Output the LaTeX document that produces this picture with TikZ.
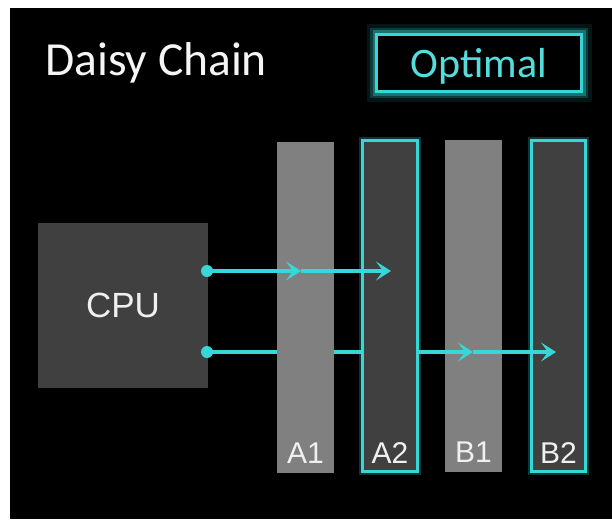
\documentclass[tikz,border=0pt]{standalone}
\usepackage{xcolor}
\usepackage{fontspec}
\usepackage{tikz}
\usetikzlibrary{positioning,arrows.meta}
\setmainfont{Liberation Sans}
\newfontfamily\calfont{Carlito}
\definecolor{glowcyan}{RGB}{55,215,215}
\definecolor{darkbar}{RGB}{64,64,64}
\definecolor{lightbar}{RGB}{128,128,128}
\tikzset{
  bar/.style={rectangle, inner sep=0pt, minimum width=57pt, minimum height=331pt},
  barname/.style={anchor=base, inner sep=0pt, text=white!94!black, font=\fontsize{30}{30}\selectfont},
  link/.style={line width=4.5pt, glowcyan, -{Stealth[length=15pt,width=19pt,inset=7pt]}},
  dot/.style={circle, fill=glowcyan, inner sep=0pt, minimum size=12pt}
}

\begin{document}
\begin{tikzpicture}[x=1pt,y=-1pt]
\useasboundingbox (0,0) rectangle (612,519);
\fill[white] (0,0) rectangle (612,519);
\fill[black] (10,8) rectangle (612,519);

% Title and badge
\node[anchor=base west, inner sep=0pt, text=white!96!black, font=\calfont\fontsize{47.5}{47.5}\selectfont] (title) at (45,75) {Daisy Chain};
\draw[glowcyan, opacity=0.1, line width=20pt] (376.5,34.5) rectangle (581.5,91.5);
\draw[glowcyan, opacity=0.2, line width=13pt] (376.5,34.5) rectangle (581.5,91.5);
\draw[glowcyan, opacity=0.35, line width=8pt] (376.5,34.5) rectangle (581.5,91.5);
\node[rectangle, draw=glowcyan, line width=3pt, fill=black, minimum width=205pt, minimum height=57pt, inner sep=0pt,
      text=glowcyan!85!white, font=\calfont\fontsize{42}{42}\selectfont, text height=28pt, text depth=0pt] (optimal) at (479,63) {Optimal};

% CPU
\node[rectangle, fill=darkbar, minimum width=170pt, minimum height=165pt, inner sep=0pt,
      text=white!94!black, font=\fontsize{35}{35}\selectfont] (cpu) at (123,305.5) {CPU};

% B slots sit below the lower link
\node[bar, fill=lightbar, minimum height=332pt] (b1) at (473.5,306) {};
\draw[glowcyan, opacity=0.25, line width=7pt] (531.5,140.5) rectangle (585.5,471.5);
\node[bar, fill=darkbar, draw=glowcyan, line width=3pt, minimum width=54pt] (b2) at (558.5,306) {};

% lower link
\coordinate (lo0) at (207,352);
\coordinate (lo1) at (473,352);
\coordinate (lo2) at (556,352);
\draw[link] (lo0) -- (lo1);
\draw[link] (lo1) -- (lo2);

% A slots cover the lower link
\node[bar, fill=lightbar] (a1) at (305.5,307.5) {};
\draw[glowcyan, opacity=0.25, line width=7pt] (362.5,140.5) rectangle (417.5,471.5);
\node[bar, fill=darkbar, draw=glowcyan, line width=3pt, minimum width=55pt] (a2) at (390,306) {};

% upper link
\coordinate (up0) at (207,271);
\coordinate (up1) at (301,271);
\coordinate (up2) at (391,271);
\draw[link] (up0) -- (up1);
\draw[link] (up1) -- (up2);
\node[dot] (d1) at (up0) {};
\node[dot] (d2) at (lo0) {};

% slot names
\node[barname] (a1t) at ([yshift=10pt]a1.south) {A1};
\node[barname] (a2t) at ([yshift=10pt]a2.south) {A2};
\node[barname] (b1t) at ([yshift=10pt]b1.south) {B1};
\node[barname] (b2t) at ([yshift=10pt]b2.south) {B2};
\end{tikzpicture}
\end{document}
